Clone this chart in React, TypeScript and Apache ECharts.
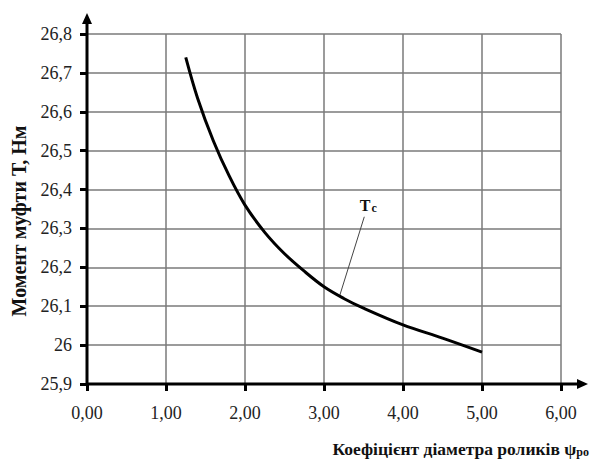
import React, { useEffect, useRef } from "react";
import * as echarts from "echarts";

const psiValues = [1.25, 1.4, 1.6, 1.8, 2.0, 2.25, 2.5, 2.75, 3.0, 3.25, 3.5, 4.0, 4.5, 5.0];
const torqueValues = [26.74, 26.635, 26.525, 26.435, 26.36, 26.29, 26.235, 26.19, 26.15, 26.12, 26.095, 26.052, 26.018, 25.982];
const seriesLabel = "T";
const seriesSub = "c";
const yTitle = "Момент муфти Т, Нм";
const xTitleMain = "Коефіцієнт діаметра роликів ψ";
const xTitleSub = "ро";

const FONT = "'Liberation Serif', 'Times New Roman', serif";

export default function App() {
  const ref = useRef<HTMLDivElement>(null);
  useEffect(() => {
    document.body.style.margin = "0";
    const chart = echarts.init(ref.current!, null, { renderer: "svg" });
    const data = psiValues.map((x, i) => [x, torqueValues[i]]);
    chart.setOption({
      animation: false,
      backgroundColor: "#ffffff",
      grid: { left: 87, right: 42, top: 34, bottom: 76, containLabel: false },
      xAxis: {
        type: "value",
        min: 0,
        max: 6,
        interval: 1,
        axisLine: { show: false },
        axisTick: { show: true, length: 7, lineStyle: { color: "#000", width: 3 } },
        axisLabel: {
          margin: 20,
          fontFamily: FONT,
          fontSize: 18,
          color: "#222",
          formatter: (v: number) => v.toFixed(2).replace(".", ","),
        },
        splitLine: { show: true, lineStyle: { color: "#7a7a7a", width: 1.5 } },
      },
      yAxis: {
        type: "value",
        min: 25.9,
        max: 26.8,
        interval: 0.1,
        axisLine: { show: false },
        axisTick: { show: true, length: 7, lineStyle: { color: "#000", width: 3 } },
        axisLabel: {
          margin: 15,
          fontFamily: FONT,
          fontSize: 18,
          color: "#222",
          formatter: (v: number) =>
            Math.abs(v - Math.round(v)) < 1e-6 ? String(Math.round(v)) : v.toFixed(1).replace(".", ","),
        },
        splitLine: { show: true, lineStyle: { color: "#7a7a7a", width: 1.5 } },
      },
      series: [
        {
          type: "line",
          data,
          smooth: 0.35,
          showSymbol: false,
          lineStyle: { color: "#000", width: 3 },
        },
      ],
    });

    const p0 = chart.convertToPixel({ gridIndex: 0 }, [0, 25.9]) as number[];
    const px = chart.convertToPixel({ gridIndex: 0 }, [6, 25.9]) as number[];
    const py = chart.convertToPixel({ gridIndex: 0 }, [0, 26.8]) as number[];
    const labelPos = chart.convertToPixel({ gridIndex: 0 }, [3.56, 26.36]) as number[];
    const leadA = chart.convertToPixel({ gridIndex: 0 }, [3.51, 26.33]) as number[];
    const leadB = chart.convertToPixel({ gridIndex: 0 }, [3.2, 26.128]) as number[];
    const xEnd = px[0] + 27;
    const yEnd = py[1] - 21;

    chart.setOption({
      graphic: [
        { type: "line", shape: { x1: p0[0], y1: p0[1], x2: xEnd - 8, y2: p0[1] }, style: { stroke: "#000", lineWidth: 3 } },
        { type: "polygon", shape: { points: [[xEnd, p0[1]], [xEnd - 11, p0[1] - 5], [xEnd - 11, p0[1] + 5]] }, style: { fill: "#000" } },
        { type: "line", shape: { x1: p0[0], y1: p0[1], x2: p0[0], y2: yEnd + 8 }, style: { stroke: "#000", lineWidth: 3 } },
        { type: "polygon", shape: { points: [[p0[0], yEnd], [p0[0] - 5, yEnd + 11], [p0[0] + 5, yEnd + 11]] }, style: { fill: "#000" } },
        { type: "line", shape: { x1: leadA[0], y1: leadA[1], x2: leadB[0], y2: leadB[1] }, style: { stroke: "#444", lineWidth: 1 } },
        {
          type: "text",
          x: labelPos[0],
          y: labelPos[1],
          style: {
            text: `{a|${seriesLabel}}{b|${seriesSub}}`,
            align: "center",
            verticalAlign: "middle",
            rich: {
              a: { fontFamily: FONT, fontSize: 16, fontWeight: "bold", fill: "#111" },
              b: { fontFamily: FONT, fontSize: 12, fontWeight: "bold", fill: "#111", padding: [5, 0, 0, 1] },
            },
          },
        },
        {
          type: "text",
          x: 19,
          y: 221,
          rotation: Math.PI / 2,
          style: {
            text: yTitle,
            align: "center",
            verticalAlign: "middle",
            fontFamily: FONT,
            fontSize: 20,
            fontWeight: "bold",
            fill: "#111",
          },
        },
        {
          type: "text",
          x: 589,
          y: 449,
          style: {
            text: `{a|${xTitleMain}}{b|${xTitleSub}}`,
            align: "right",
            verticalAlign: "middle",
            rich: {
              a: { fontFamily: FONT, fontSize: 17.5, fontWeight: "bold", fill: "#111" },
              b: { fontFamily: FONT, fontSize: 12, fontWeight: "bold", fill: "#111", padding: [5, 0, 0, 0] },
            },
          },
        },
      ],
    });
    return () => chart.dispose();
  }, []);
  return <div ref={ref} style={{ width: 603, height: 460 }} />;
}
